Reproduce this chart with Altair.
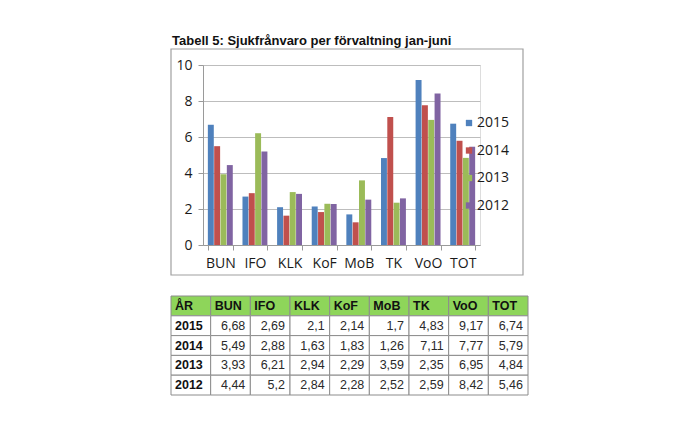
import altair as alt
import pandas as pd

title_text = "Tabell 5: Sjukfrånvaro per förvaltning jan-juni"
categories = ["BUN", "IFO", "KLK", "KoF", "MoB", "TK", "VoO", "TOT"]
years = ["2015", "2014", "2013", "2012"]
v2015 = [6.68, 2.69, 2.1, 2.14, 1.7, 4.83, 9.17, 6.74]
v2014 = [5.49, 2.88, 1.63, 1.83, 1.26, 7.11, 7.77, 5.79]
v2013 = [3.93, 6.21, 2.94, 2.29, 3.59, 2.35, 6.95, 4.84]
v2012 = [4.44, 5.2, 2.84, 2.28, 2.52, 2.59, 8.42, 5.46]
y_ticks = [0, 2, 4, 6, 8, 10]
first_col = "ÅR"
colors = ["#4f81bd", "#c0504d", "#9bbb59", "#8064a2"]

series = {"2015": v2015, "2014": v2014, "2013": v2013, "2012": v2012}
rows = []
for yr in years:
    for c, v in zip(categories, series[yr]):
        rows.append({"kategori": c, "år": yr, "värde": v})
df = pd.DataFrame(rows)

FONT = "Liberation Sans"
LABEL_FONT = "Open Sans"

bars = alt.Chart(df).mark_bar().encode(
    x=alt.X("kategori:N", sort=categories,
            scale=alt.Scale(paddingInner=0.28, paddingOuter=0.14),
            axis=alt.Axis(title=None, labelAngle=0, tickBand="extent", tickSize=5,
                          domainColor="#9a9a9a", tickColor="#9a9a9a", labelFont=LABEL_FONT,
                          labelFontSize=14, labelColor="#1a1a1a", labelPadding=6, grid=False)),
    xOffset=alt.XOffset("år:N", sort=years, scale=alt.Scale(paddingInner=0.06)),
    y=alt.Y("värde:Q", scale=alt.Scale(domain=[0, 10]),
            axis=alt.Axis(title=None, values=y_ticks, tickSize=5, domainColor="#9a9a9a",
                          tickColor="#9a9a9a", gridColor="#bdbdbd", labelFont=LABEL_FONT,
                          labelFontSize=14, labelColor="#1a1a1a", labelPadding=6)),
    color=alt.Color("år:N", sort=years, scale=alt.Scale(domain=years, range=colors),
                    legend=alt.Legend(title=None, orient="none", legendX=259, legendY=51,
                                      symbolType="square", symbolSize=40, symbolStrokeWidth=0,
                                      labelFont=LABEL_FONT, labelFontSize=14, labelColor="#1a1a1a",
                                      labelOffset=1, rowPadding=13.5)),
)

frame = alt.Chart(pd.DataFrame({"f": [0]})).mark_rect(
    fill=None, stroke="#a0a0a0", strokeWidth=1.2
).encode(x=alt.value(-32), x2=alt.value(320), y=alt.value(-16), y2=alt.value(210))

# table
columns = [first_col] + categories
row_keys = [first_col] + years


def fmt(v):
    return str(v).replace(".", ",")


cells = []
for r in row_keys:
    for c in columns:
        if r == first_col:
            cells.append({"row": r, "col": c, "txt": c, "fill": "#8ed55a", "kind": "left"})
        elif c == first_col:
            cells.append({"row": r, "col": c, "txt": r, "fill": "#ffffff", "kind": "left"})
        else:
            val = series[r][categories.index(c)]
            cells.append({"row": r, "col": c, "txt": fmt(val), "fill": "#ffffff", "kind": "right"})
tdf = pd.DataFrame(cells)

xs = alt.Scale(domain=columns, paddingInner=0, paddingOuter=0, range=[-32, 325])
ys = alt.Scale(domain=row_keys, paddingInner=0, paddingOuter=0, range=[231, 330])

tbase = alt.Chart(tdf)
rects = tbase.mark_rect(stroke="#8c8c8c", strokeWidth=1).encode(
    x=alt.X("col:N", scale=xs, axis=None, sort=columns),
    y=alt.Y("row:N", scale=ys, axis=None, sort=row_keys),
    fill=alt.Fill("fill:N", scale=None),
)
left_txt = tbase.transform_filter(alt.datum.kind == "left").mark_text(
    align="left", baseline="middle", dx=4, font=FONT, fontSize=12.5, fontWeight="bold", color="#111"
).encode(
    x=alt.X("col:N", scale=xs, axis=None, sort=columns, bandPosition=0),
    y=alt.Y("row:N", scale=ys, axis=None, sort=row_keys, bandPosition=0.5),
    text="txt:N",
)
right_txt = tbase.transform_filter(alt.datum.kind == "right").mark_text(
    align="right", baseline="middle", dx=-5, font=FONT, fontSize=12.5, color="#2a2a2a"
).encode(
    x=alt.X("col:N", scale=xs, axis=None, sort=columns, bandPosition=1),
    y=alt.Y("row:N", scale=ys, axis=None, sort=row_keys, bandPosition=0.5),
    text="txt:N",
)
table = alt.layer(rects, left_txt, right_txt)

chart = alt.layer(frame, bars, table).resolve_scale(
    x="independent", y="independent"
).properties(
    width=277, height=180,
    title=alt.TitleParams(title_text, anchor="start", frame="group", dx=-31, offset=0,
                          font=FONT, fontSize=13, fontWeight="bold", color="#111")
).configure_view(
    strokeWidth=0, strokeOpacity=0
).configure(
    padding={"left": 170, "top": 35, "right": 5, "bottom": 5}
)

chart.save("out.html", embed_options={"renderer": "svg", "actions": False})
